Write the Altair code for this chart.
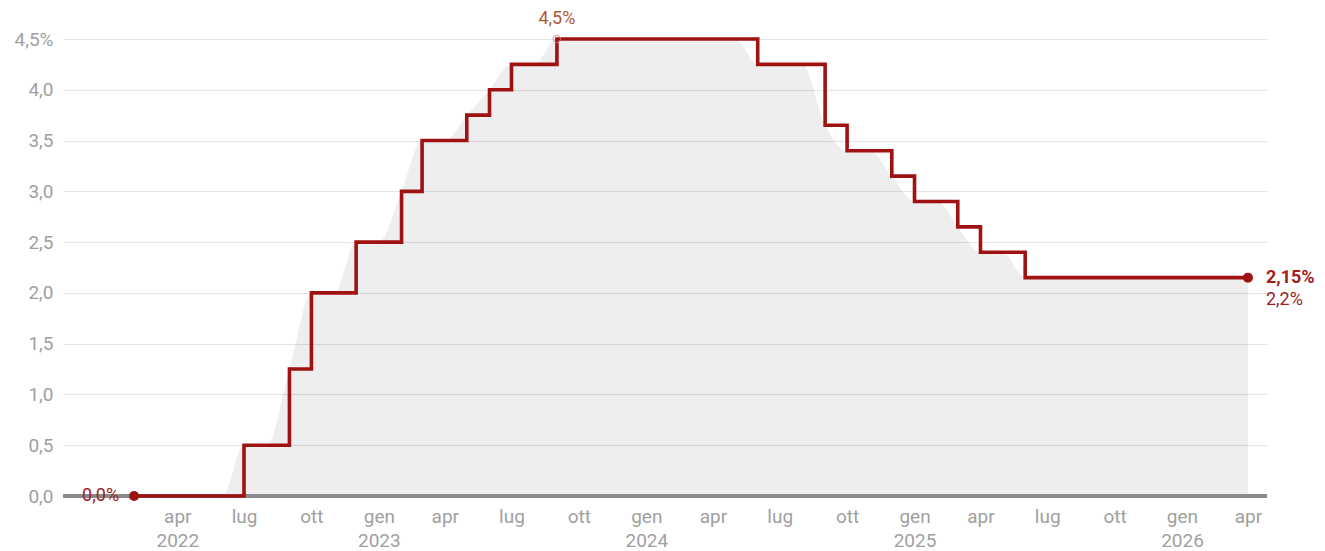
import altair as alt
import pandas as pd

# Monthly ECB rate values, Feb 2022 .. Apr 2026 (month starts)
month_starts = pd.date_range("2022-02-01", "2026-04-01", freq="MS").strftime("%Y-%m-%d").tolist()
rates = [
    0.0, 0.0, 0.0, 0.0, 0.0, 0.5, 0.5, 1.25, 2.0, 2.0, 2.5,            # 2022 Feb-Dec
    2.5, 3.0, 3.5, 3.5, 3.75, 4.0, 4.25, 4.25, 4.5, 4.5, 4.5, 4.5,     # 2023
    4.5, 4.5, 4.5, 4.5, 4.5, 4.25, 4.25, 4.25, 3.65, 3.40, 3.40, 3.15, # 2024
    2.90, 2.90, 2.65, 2.40, 2.40, 2.15, 2.15, 2.15, 2.15, 2.15, 2.15, 2.15,  # 2025
    2.15, 2.15, 2.15, 2.15,                                            # 2026 Jan-Apr
]

# Axis ticks
y_ticks = [0.0, 0.5, 1.0, 1.5, 2.0, 2.5, 3.0, 3.5, 4.0, 4.5]
y_tick_labels = ["0,0", "0,5", "1,0", "1,5", "2,0", "2,5", "3,0", "3,5", "4,0", "4,5%"]
x_tick_dates = ["2022-04-01", "2022-07-01", "2022-10-01", "2023-01-01", "2023-04-01",
                "2023-07-01", "2023-10-01", "2024-01-01", "2024-04-01", "2024-07-01",
                "2024-10-01", "2025-01-01", "2025-04-01", "2025-07-01", "2025-10-01",
                "2026-01-01", "2026-04-01"]
x_tick_months = ["apr", "lug", "ott", "gen", "apr", "lug", "ott", "gen", "apr", "lug",
                 "ott", "gen", "apr", "lug", "ott", "gen", "apr"]
x_tick_years = ["2022", "", "", "2023", "", "", "", "2024", "", "", "",
                "2025", "", "", "", "2026", ""]
x_domain = ["2021-10-27", "2026-04-27"]

# Annotations
ann_dates = ["2022-02-01", "2023-09-01", "2026-04-01", "2026-04-01"]
ann_values = [0.0, 4.5, 2.15, 2.15]
ann_labels = ["0,0%", "4,5%", "2,15%", "2,2%"]

RED = "#a01212"
FONT = "Roboto"


def ms(d):
    return int(pd.Timestamp(d, tz="UTC").value // 10**6)


tick_ms = [ms(d) for d in x_tick_dates]
x_label_expr = (
    "[" + str(x_tick_months) + "[indexof(" + str(tick_ms) + ", time(datum.value))], "
    + str(x_tick_years) + "[indexof(" + str(tick_ms) + ", time(datum.value))]]"
)
y_keys = [f"{v:g}" for v in y_ticks]
y_label_expr = (
    str(y_tick_labels) + "[indexof(" + str(y_keys) + ", toString(datum.value))]"
)

df = pd.DataFrame({"date": month_starts, "rate": rates})
ann = pd.DataFrame({"date": ann_dates, "rate": ann_values, "label": ann_labels})

x_scale = alt.Scale(type="utc", domain=[ms(d) for d in x_domain])
y_scale = alt.Scale(domain=[0, 4.5], nice=False, zero=True)

x_enc = alt.X(
    "date:T",
    scale=x_scale,
    title=None,
    axis=alt.Axis(
        values=tick_ms,
        labelExpr=x_label_expr,
        grid=False,
        ticks=False,
        domain=False,
        labelPadding=11,
        labelLineHeight=24,
        labelFlush=False,
        labelOverlap=False,
        labelBound=False,
        labelAlign="center",
    ),
)
y_enc = alt.Y(
    "rate:Q",
    scale=y_scale,
    title=None,
    axis=alt.Axis(
        values=y_ticks,
        labelExpr=y_label_expr,
        grid=True,
        ticks=False,
        domain=False,
        labelPadding=10,
    ),
)

base = alt.Chart(df)

area = base.mark_area(interpolate="monotone", color="#000000", fillOpacity=0.068).encode(
    x=x_enc, y=y_enc
)

baseline = alt.Chart(df).mark_rule(color="#8a8a8a", strokeWidth=2.5).encode(
    y=alt.datum(0)
)

line = base.mark_line(interpolate="step-after", color=RED, strokeWidth=3.6).encode(
    x="date:T", y="rate:Q"
)

end_pts = alt.Chart(ann.iloc[[0, 2]]).mark_circle(size=100, color=RED, opacity=1).encode(
    x="date:T", y="rate:Q"
)

peak_pt = alt.Chart(ann.iloc[[1]]).mark_point(
    shape="circle", filled=False, size=55, color="#d48a8a", strokeWidth=1.2
).encode(x="date:T", y="rate:Q")

lbl_start = alt.Chart(ann.iloc[[0]]).mark_text(
    align="right", baseline="middle", dx=-15, dy=0, font=FONT, fontSize=18, color="#a02020"
).encode(x="date:T", y="rate:Q", text="label:N")

lbl_peak = alt.Chart(ann.iloc[[1]]).mark_text(
    align="center", baseline="middle", dx=0, dy=-20, font=FONT, fontSize=18, color="#b0583a"
).encode(x="date:T", y="rate:Q", text="label:N")

lbl_end = alt.Chart(ann.iloc[[2]]).mark_text(
    align="left", baseline="middle", dx=18, dy=0, font=FONT, fontSize=18,
    fontWeight="bold", color="#a02020"
).encode(x="date:T", y="rate:Q", text="label:N")

lbl_end2 = alt.Chart(ann.iloc[[3]]).mark_text(
    align="left", baseline="middle", dx=18, dy=22, font=FONT, fontSize=18, color="#a02020"
).encode(x="date:T", y="rate:Q", text="label:N")

chart = (
    alt.layer(area, baseline, line, end_pts, peak_pt, lbl_start, lbl_peak, lbl_end, lbl_end2)
    .properties(
        width=1204,
        height=457,
        autosize=alt.AutoSizeParams(type="none"),
        padding={"left": 55, "top": 31, "right": 50, "bottom": 55},
    )
    .configure_view(stroke=None)
    .configure_axis(
        labelFont=FONT,
        labelFontSize=19,
        labelColor="#a0a0a0",
        gridColor="#e4e4e4",
        gridWidth=1,
    )
)

chart.save("out.html", embed_options={"renderer": "svg", "actions": False})
